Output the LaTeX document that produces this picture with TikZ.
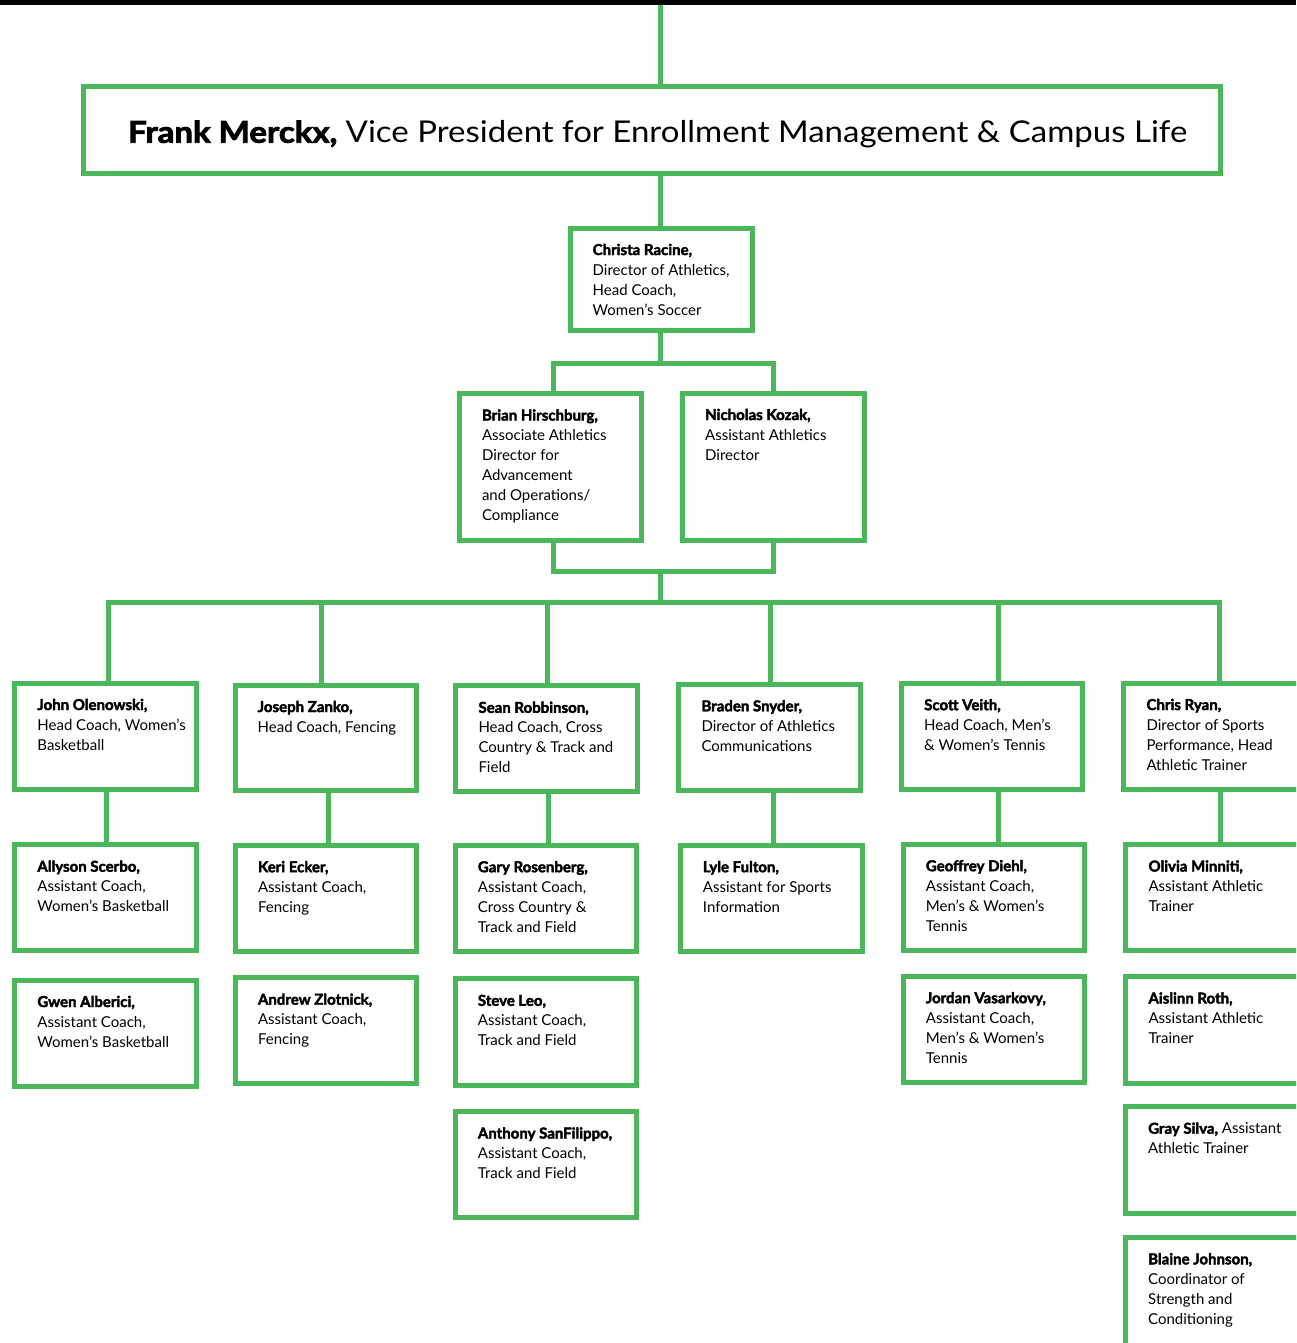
\documentclass[tikz,border=0pt]{standalone}
\usepackage{fontspec}
\setmainfont{Lato}[BoldFeatures={FakeBold=2.5}]
\definecolor{orggreen}{RGB}{74,184,90}
\tikzset{
  obox/.style={draw=orggreen, line width=5pt, inner sep=0pt, rectangle},
  otext/.style={anchor=base west, inner sep=0pt, font=\fontsize{15}{20}\selectfont},
  conn/.style={draw=orggreen, line width=5pt, line join=miter}
}
\newcommand\orgbox[6]{%
  \node[obox, minimum width={(#4)-(#2)}, minimum height={(#5)-(#3)}] (#1) at ({((#2)+(#4))/2},{((#3)+(#5))/2}) {};
  \node[otext] (#1-t) at ({(#2)+22.5},{(#3)+27}) {\parbox[t]{260pt}{\raggedright #6}};
}
\begin{document}
\begin{tikzpicture}[x=1pt,y=-1pt]
\useasboundingbox (0,0) rectangle (1296,1343);
\clip (0,0) rectangle (1296,1343);
\fill[white] (0,0) rectangle (1296,1343);

% boxes
\orgbox{christa}{570}{228}{752}{330}{\textbf{Christa Racine,}\\Director of Athletics,\\Head Coach,\\Women’s Soccer}
\orgbox{brian}{459.3}{393.5}{641}{540.2}{\textbf{Brian Hirschburg,}\\Associate Athletics\\Director for\\Advancement\\and Operations/\\Compliance}
\orgbox{nicholas}{682.5}{393}{864.2}{540.5}{\textbf{Nicholas Kozak,}\\Assistant Athletics\\Director}

\orgbox{john}{14.7}{683}{196}{789.7}{\textbf{John Olenowski,}\\Head Coach, Women’s\\Basketball}
\orgbox{joseph}{235}{685}{416.8}{790}{\textbf{Joseph Zanko,}\\Head Coach, Fencing}
\orgbox{sean}{455.8}{685.8}{637.5}{791.8}{\textbf{Sean Robbinson,}\\Head Coach, Cross\\Country \& Track and\\Field}
\orgbox{braden}{678.8}{684.3}{860.2}{790.2}{\textbf{Braden Snyder,}\\Director of Athletics\\Communications}
\orgbox{scott}{901.5}{683.2}{1082.5}{789.5}{\textbf{Scott Veith,}\\Head Coach, Men’s\\\& Women’s Tennis}
\orgbox{chris}{1123.8}{683}{1316}{789.5}{\textbf{Chris Ryan,}\\Director of Sports\\Performance, Head\\Athletic Trainer}

\orgbox{allyson}{14.7}{844.7}{196.3}{950.8}{\textbf{Allyson Scerbo,}\\Assistant Coach,\\Women’s Basketball}
\orgbox{keri}{235.3}{845.2}{416.8}{951.3}{\textbf{Keri Ecker,}\\Assistant Coach,\\Fencing}
\orgbox{gary}{455.2}{845.2}{636.8}{951.5}{\textbf{Gary Rosenberg,}\\Assistant Coach,\\Cross Country \&\\Track and Field}
\orgbox{lyle}{680.2}{845.2}{862.2}{951.5}{\textbf{Lyle Fulton,}\\Assistant for Sports\\Information}
\orgbox{geoffrey}{903.2}{844.2}{1084.8}{950.8}{\textbf{Geoffrey Diehl,}\\Assistant Coach,\\Men’s \& Women’s\\Tennis}
\orgbox{olivia}{1125.8}{844.5}{1316}{950.8}{\textbf{Olivia Minniti,}\\Assistant Athletic\\Trainer}

\orgbox{gwen}{14.7}{980}{196.3}{1086.2}{\textbf{Gwen Alberici,}\\Assistant Coach,\\Women’s Basketball}
\orgbox{andrew}{235.3}{977.7}{416.8}{1083.7}{\textbf{Andrew Zlotnick,}\\Assistant Coach,\\Fencing}
\orgbox{steve}{455.2}{978.8}{636.8}{1085.2}{\textbf{Steve Leo,}\\Assistant Coach,\\Track and Field}
\orgbox{jordan}{903.2}{976.2}{1084.8}{1082.7}{\textbf{Jordan Vasarkovy,}\\Assistant Coach,\\Men’s \& Women’s\\Tennis}
\orgbox{aislinn}{1125.8}{976.5}{1316}{1083}{\textbf{Aislinn Roth,}\\Assistant Athletic\\Trainer}

\orgbox{anthony}{455.2}{1111.5}{636.8}{1217.5}{\textbf{Anthony SanFilippo,}\\Assistant Coach,\\Track and Field}
\orgbox{gray}{1125.5}{1106.7}{1316}{1213.3}{\textbf{Gray Silva,} Assistant\\Athletic Trainer}
\orgbox{blaine}{1125.5}{1237.3}{1316}{1360}{\textbf{Blaine Johnson,}\\Coordinator of\\Strength and\\Conditioning}

% top box
\node[obox, minimum width={1220.5-83.5}, minimum height={173.5-86.5}] (vp) at ({(83.5+1220.5)/2},{(86.5+173.5)/2}) {};
\node[anchor=base west, inner sep=0pt, font=\fontsize{30}{36}\selectfont] (vp-t) at (128,142.7) {\scalebox{1.1}[1]{\textbf{Frank Merckx,} Vice President for Enrollment Management \& Campus Life}};

% connectors
\coordinate (spine) at (660,0);
\draw[conn] (spine) -- (spine |- vp.north);
\draw[conn] (vp.south -| spine) -- (christa.north -| spine);
\coordinate (j1) at (660,363.3);
\coordinate (j1L) at (553.2,363.3);
\coordinate (j1R) at (773.8,363.3);
\draw[conn] (christa.south -| spine) -- (j1);
\draw[conn] (j1L |- brian.north) -- (j1L) -- (j1R) -- (j1R |- nicholas.north);
\coordinate (j2) at (660,571.7);
\coordinate (j2L) at (553.2,571.7);
\coordinate (j2R) at (773.8,571.7);
\draw[conn] (j2L |- brian.south) -- (j2L) -- (j2R) -- (j2R |- nicholas.south);
\coordinate (j3) at (660,602.5);
\draw[conn] (j2) -- (j3);
\coordinate (b1) at (108.5,602.5);
\coordinate (b2) at (321.8,602.5);
\coordinate (b3) at (547.5,602.5);
\coordinate (b4) at (770.2,602.5);
\coordinate (b5) at (998.2,602.5);
\coordinate (b6) at (1219.2,602.5);
\draw[conn] (b1 |- john.north) -- (b1) -- (b6) -- (b6 |- chris.north);
\draw[conn] (b2) -- (b2 |- joseph.north);
\draw[conn] (b3) -- (b3 |- sean.north);
\draw[conn] (b4) -- (b4 |- braden.north);
\draw[conn] (b5) -- (b5 |- scott.north);
\coordinate (d1) at (106.8,0);
\coordinate (d2) at (328.5,0);
\coordinate (d3) at (548.2,0);
\coordinate (d4) at (773.2,0);
\coordinate (d5) at (998.2,0);
\coordinate (d6) at (1220.5,0);
\draw[conn] (john.south -| d1) -- (allyson.north -| d1);
\draw[conn] (joseph.south -| d2) -- (keri.north -| d2);
\draw[conn] (sean.south -| d3) -- (gary.north -| d3);
\draw[conn] (braden.south -| d4) -- (lyle.north -| d4);
\draw[conn] (scott.south -| d5) -- (geoffrey.north -| d5);
\draw[conn] (chris.south -| d6) -- (olivia.north -| d6);

% black top bar
\fill[black] (0,0) rectangle (1296,4.7);
\end{tikzpicture}
\end{document}
